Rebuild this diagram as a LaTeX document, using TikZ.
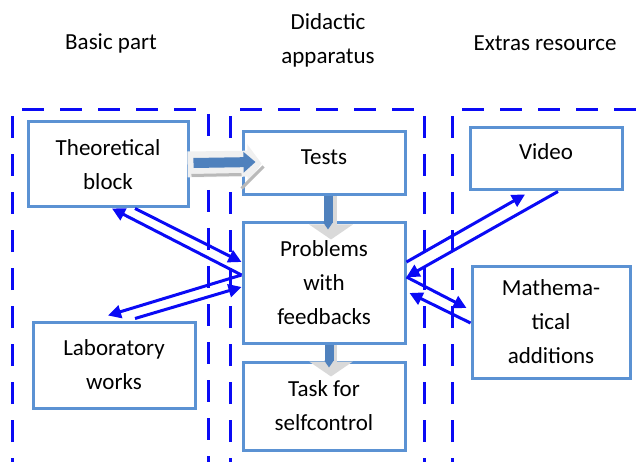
\documentclass[tikz,border=0pt]{standalone}
\usepackage{fontspec}
\setmainfont{Carlito}
\usetikzlibrary{arrows.meta}
\definecolor{boxblue}{RGB}{91,146,211}
\definecolor{linkblue}{RGB}{10,10,245}
\definecolor{steel}{RGB}{79,129,189}
\tikzset{
 box/.style={draw=boxblue,line width=3pt,fill=white,inner sep=0pt,align=center},
 column/.style={draw=linkblue,line width=3pt,dash pattern=on 22pt off 16pt},
 link/.style={draw=linkblue,line width=3pt,-{Triangle[length=13pt,width=13pt]}},
 blockarrow/.style={draw=steel,line width=9pt,-{Triangle[length=7pt,width=9pt]}},
 shadearrow/.style={draw=gray!30,line width=11pt,-{Triangle[length=15pt,width=43pt]}}
}

\begin{document}
\begin{tikzpicture}[x=1pt,y=-1pt,font=\fontsize{23}{34}\selectfont]
 \useasboundingbox (0,0) rectangle (639,462);
 \clip (0,0) rectangle (639,462);
 \node (basic) at (111,43) {Basic part};
 \node[align=center] (didactic) at (328,40) {Didactic\\apparatus};
 \node (extras) at (545,43) {Extras resource};
 \draw[column] (12,480) |- (208,110) -- (208,480);
 \draw[column] (230,480) |- (424,110) -- (424,480);
 \draw[column] (452,480) |- (660,110);
 \node[box,minimum width=160pt,minimum height=85pt] (theo) at (108,164.5) {Theoretical\\block};
 \node[box,minimum width=162pt,minimum height=86pt] (lab) at (114,365) {Laboratory\\works};
 \node[box,minimum width=162pt,minimum height=63pt,text height=17pt,text depth=14pt] (tests) at (324,163.5) {Tests};
 \node[box,minimum width=162pt,minimum height=120pt] (prob) at (324,283) {Problems\\with\\feedbacks};
 \node[box,minimum width=162pt,minimum height=88pt] (task) at (324,406) {Task for\\selfcontrol};
 \node[box,minimum width=152pt,minimum height=62pt,text height=17pt,text depth=16pt] (video) at (546,159) {Video};
 \node[box,minimum width=158pt,minimum height=112pt] (math) at (551,322) {Mathema-\\tical\\additions};
 \draw[draw=gray!12,line width=26pt,-{Triangle[length=14pt,width=38pt]}] ([xshift=-2]theo.east) -- ([xshift=20]tests.west);
 \draw[draw=gray!55,line width=3pt] ([xshift=2,yshift=-11]theo.east) -- ([yshift=-11]tests.west) ([yshift=-25]tests.west) -- ([xshift=22,yshift=-3]tests.west);
 \draw[blockarrow,line width=10pt,-{Triangle[length=12pt,width=20pt]}] ([xshift=4,yshift=1.5]theo.east) -- ([xshift=14,yshift=1.5]tests.west);
 \draw[shadearrow] ([xshift=7]tests.south) -- ([xshift=7,yshift=-43]tests.south);
 \draw[blockarrow] ([xshift=4]tests.south) -- ([xshift=4,yshift=-33]tests.south);
 \draw[shadearrow] ([xshift=7]prob.south) -- ([xshift=7,yshift=-32]prob.south);
 \draw[blockarrow] ([xshift=5]prob.south) -- ([xshift=5,yshift=-23]prob.south);
 \draw[link] ([yshift=8]prob.west) -- ([xshift=4]theo.south);
 \draw[link] ([xshift=27]theo.south) -- ([yshift=21]prob.west);
 \draw[link] ([yshift=8]prob.west) -- ([xshift=-6,yshift=5]lab.north);
 \draw[link] ([xshift=21,yshift=2]lab.north) -- ([yshift=-4]prob.west);
 \draw[link] ([yshift=21]prob.east) -- ([xshift=-21,yshift=-3]video.south);
 \draw[link] ([xshift=12]video.south) -- ([yshift=6]prob.east);
 \draw[link] ([yshift=6]prob.east) -- ([xshift=-4,yshift=14]math.west);
 \draw[link] ([yshift=-1]math.west) -- ([xshift=3,yshift=-10]prob.east);
\end{tikzpicture}
\end{document}
